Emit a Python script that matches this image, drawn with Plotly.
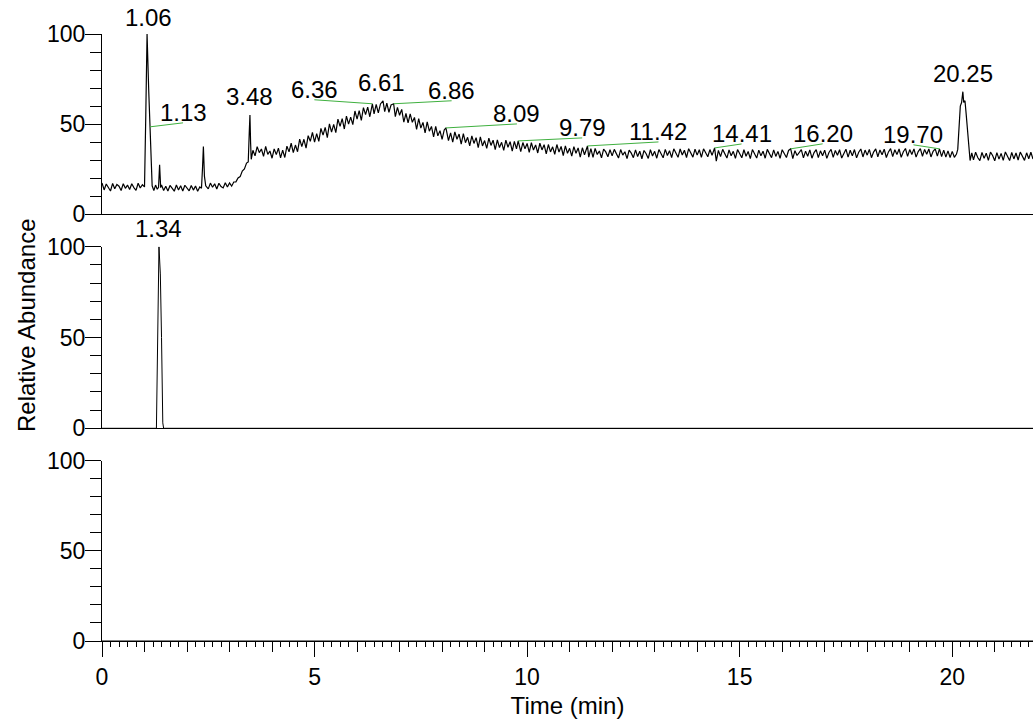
import plotly.graph_objects as go

# ---------------- data ----------------
# Top panel: total chromatogram (time in min, relative abundance %)
tic_time = [
    0.00, 0.05, 0.10, 0.15, 0.20, 0.25, 0.30, 0.35, 0.40, 0.45,
    0.50, 0.55, 0.60, 0.65, 0.70, 0.75, 0.80, 0.85, 0.90, 0.95,
    1.00, 1.03, 1.06, 1.10, 1.13, 1.15, 1.18,
    1.22, 1.26, 1.30, 1.33, 1.355, 1.38, 1.40, 1.45, 1.50, 1.55,
    1.60, 1.65, 1.70, 1.75, 1.80, 1.85, 1.90, 1.95, 2.00, 2.05,
    2.10, 2.15, 2.20, 2.25, 2.30, 2.34, 2.365, 2.385, 2.41, 2.44,
    2.50, 2.55, 2.60, 2.65, 2.70, 2.75, 2.80, 2.85, 2.90, 2.95,
    3.00, 3.05, 3.10, 3.15, 3.20, 3.25, 3.30, 3.35, 3.40, 3.44,
    3.465, 3.48, 3.495, 3.51,
    3.55, 3.60, 3.65, 3.70, 3.75, 3.80, 3.85, 3.90, 3.95, 4.00,
    4.05, 4.10, 4.15, 4.20, 4.25, 4.30, 4.35, 4.40, 4.45, 4.50,
    4.55, 4.60, 4.65, 4.70, 4.75, 4.80, 4.85, 4.90, 4.95, 5.00,
    5.05, 5.10, 5.15, 5.20, 5.25, 5.30, 5.35, 5.40, 5.45, 5.50,
    5.55, 5.60, 5.65, 5.70, 5.75, 5.80, 5.85, 5.90, 5.95, 6.00,
    6.05, 6.10, 6.15, 6.20, 6.25, 6.30, 6.36, 6.40, 6.45, 6.50,
    6.55, 6.61, 6.65, 6.70, 6.75, 6.80, 6.86, 6.90, 6.95, 7.00,
    7.05, 7.10, 7.15, 7.20, 7.25, 7.30, 7.35, 7.40, 7.45, 7.50,
    7.55, 7.60, 7.65, 7.70, 7.75, 7.80, 7.85, 7.90, 7.95, 8.00,
    8.05, 8.09, 8.15, 8.20, 8.25, 8.30, 8.35, 8.40, 8.45, 8.50,
    8.55, 8.60, 8.65, 8.70, 8.75, 8.80, 8.85, 8.90, 8.95, 9.00,
    9.05, 9.10, 9.15, 9.20, 9.25, 9.30, 9.35, 9.40, 9.45, 9.50,
    9.55, 9.60, 9.65, 9.70, 9.75, 9.79, 9.85, 9.90, 9.95, 10.00,
    10.05, 10.10, 10.15, 10.20, 10.25, 10.30, 10.35, 10.40, 10.45, 10.50,
    10.55, 10.60, 10.65, 10.70, 10.75, 10.80, 10.85, 10.90, 10.95, 11.00,
    11.05, 11.10, 11.15, 11.20, 11.25, 11.30, 11.35, 11.42, 11.45, 11.50,
    11.55, 11.60, 11.65, 11.70, 11.75, 11.80, 11.85, 11.90, 11.95, 12.00,
    12.05, 12.10, 12.15, 12.20, 12.25, 12.30, 12.35, 12.40, 12.45, 12.50,
    12.55, 12.60, 12.65, 12.70, 12.75, 12.80, 12.85, 12.90, 12.95, 13.00,
    13.05, 13.10, 13.15, 13.20, 13.25, 13.30, 13.35, 13.40, 13.45, 13.50,
    13.55, 13.60, 13.65, 13.70, 13.75, 13.80, 13.85, 13.90, 13.95, 14.00,
    14.05, 14.10, 14.15, 14.20, 14.25, 14.30, 14.35, 14.41, 14.45, 14.50,
    14.55, 14.60, 14.65, 14.70, 14.75, 14.80, 14.85, 14.90, 14.95, 15.00,
    15.05, 15.10, 15.15, 15.20, 15.25, 15.30, 15.35, 15.40, 15.45, 15.50,
    15.55, 15.60, 15.65, 15.70, 15.75, 15.80, 15.85, 15.90, 15.95, 16.00,
    16.05, 16.10, 16.15, 16.20, 16.25, 16.30, 16.35, 16.40, 16.45, 16.50,
    16.55, 16.60, 16.65, 16.70, 16.75, 16.80, 16.85, 16.90, 16.95, 17.00,
    17.05, 17.10, 17.15, 17.20, 17.25, 17.30, 17.35, 17.40, 17.45, 17.50,
    17.55, 17.60, 17.65, 17.70, 17.75, 17.80, 17.85, 17.90, 17.95, 18.00,
    18.05, 18.10, 18.15, 18.20, 18.25, 18.30, 18.35, 18.40, 18.45, 18.50,
    18.55, 18.60, 18.65, 18.70, 18.75, 18.80, 18.85, 18.90, 18.95, 19.00,
    19.05, 19.10, 19.15, 19.20, 19.25, 19.30, 19.35, 19.40, 19.45, 19.50,
    19.55, 19.60, 19.65, 19.70, 19.75, 19.80, 19.85, 19.90, 19.95, 20.00,
    20.05, 20.10, 20.13, 20.16, 20.19, 20.22, 20.25, 20.27, 20.30, 20.33,
    20.38, 20.42, 20.46, 20.50, 20.55, 20.60, 20.65, 20.70, 20.75, 20.80,
    20.85, 20.90, 20.95, 21.00, 21.05, 21.10, 21.15, 21.20, 21.25, 21.30,
    21.35, 21.40, 21.45, 21.50, 21.55, 21.60, 21.65, 21.70, 21.75, 21.80,
    21.85, 21.90,
]
tic_abund = [
    17.4, 13.5, 16.8, 14.9, 12.9, 17.1, 14.2, 16.5, 15.6, 13.2,
    17.0, 14.4, 16.2, 13.7, 16.9, 14.8, 13.3, 17.2, 14.6, 16.4,
    15.2, 55.0, 100.0, 68.0, 48.5, 40.0, 15.8,
    13.1, 16.2, 13.9, 15.0, 27.4, 14.8, 16.3, 13.2, 15.6, 12.9,
    16.0, 14.6, 12.8, 16.2, 13.5, 15.8, 12.9, 16.1, 14.2, 13.0,
    16.0, 13.4, 15.7, 12.8, 15.2, 14.4, 26.0, 37.6, 21.0, 15.8,
    14.1, 17.3, 15.0, 16.9, 14.0, 17.2, 15.4, 14.6, 17.5, 15.1,
    17.4, 15.6, 17.9, 18.0, 20.1, 20.9, 24.0, 25.2, 28.4, 29.0,
    46.0, 55.0, 40.0, 30.5,
    35.5, 32.4, 37.5, 34.2, 36.2, 32.1, 37.6, 33.2, 35.1, 31.1,
    36.3, 33.1, 36.7, 31.3, 35.6, 31.5, 37.8, 34.6, 39.4, 34.2,
    38.4, 34.7, 41.7, 37.5, 41.6, 36.7, 43.6, 40.5, 45.4, 40.0,
    44.7, 40.4, 47.6, 43.9, 48.2, 42.5, 50.1, 45.6, 49.9, 45.3,
    52.8, 48.8, 53.1, 47.3, 54.5, 50.0, 53.9, 49.7, 57.3, 52.8,
    57.5, 52.1, 59.2, 55.3, 59.4, 54.1, 61.3, 55.7, 60.9, 56.2,
    61.2, 62.9, 56.9, 61.6, 56.6, 60.7, 61.3, 54.2, 59.3, 54.9,
    58.2, 51.1, 55.9, 50.7, 55.7, 51.0, 53.7, 47.1, 53.1, 47.8,
    51.0, 45.1, 51.2, 46.1, 48.7, 42.9, 48.7, 43.5, 46.4, 41.6,
    46.8, 47.9, 40.9, 45.2, 40.0, 45.7, 41.6, 44.5, 38.9, 44.7,
    39.7, 42.7, 38.0, 43.5, 39.3, 42.5, 37.0, 42.9, 37.9, 40.9,
    36.6, 42.2, 38.2, 41.1, 35.9, 41.3, 37.0, 39.9, 35.5, 41.1,
    37.2, 40.3, 35.0, 40.4, 36.3, 40.7, 34.8, 39.8, 36.3, 39.3,
    34.3, 39.7, 35.6, 38.5, 34.0, 39.4, 35.7, 38.6, 33.5, 38.7,
    34.6, 37.4, 33.3, 38.7, 34.5, 37.6, 32.6, 37.9, 33.8, 36.6,
    32.3, 37.5, 33.8, 36.8, 31.7, 36.9, 33.0, 37.9, 31.7, 36.4,
    31.6, 36.5, 33.2, 35.1, 31.3, 36.2, 34.6, 31.9, 35.8, 32.4,
    36.0, 33.1, 31.2, 35.9, 32.8, 34.7, 30.9, 35.6, 33.9, 31.4,
    35.7, 32.0, 35.0, 30.8, 35.4, 33.6, 31.0, 35.8, 32.3, 34.9,
    31.1, 35.9, 33.2, 31.3, 36.0, 32.6, 35.3, 31.4, 36.3, 34.0,
    31.6, 36.2, 32.9, 35.5, 31.5, 36.4, 33.8, 31.7, 36.1, 32.8,
    35.8, 31.6, 36.3, 34.2, 31.9, 35.9, 32.7, 36.8, 29.5, 35.4,
    32.0, 36.0, 33.1, 31.2, 35.7, 32.5, 34.9, 31.0, 35.9, 33.6,
    31.3, 35.8, 32.2, 34.8, 30.9, 35.9, 33.3, 31.2, 35.6, 32.4,
    35.0, 31.1, 36.0, 33.5, 31.4, 35.7, 32.1, 34.9, 31.0, 35.8,
    33.2, 31.5, 35.4, 36.3, 30.9, 35.3, 32.6, 34.1, 35.9, 31.3,
    35.0, 32.2, 35.7, 31.1, 34.2, 35.9, 31.4, 35.2, 32.5, 35.6,
    31.0, 34.3, 36.0, 31.6, 35.4, 32.7, 35.8, 31.2, 34.0, 36.1,
    31.7, 35.5, 32.4, 35.9, 31.3, 34.4, 36.2, 31.8, 35.6, 32.8,
    36.0, 31.4, 34.5, 36.3, 31.9, 35.7, 33.0, 36.1, 31.5, 34.6,
    36.4, 32.0, 35.8, 33.1, 36.2, 31.6, 34.7, 36.5, 32.1, 35.9,
    33.2, 36.3, 31.7, 34.8, 36.4, 32.2, 36.0, 33.3, 36.2, 31.8,
    34.9, 36.3, 32.3, 36.3, 32.0, 35.6, 31.7, 35.2, 31.5, 34.9,
    31.6, 33.4, 36.0, 50.0, 60.0, 62.0, 68.0, 62.0, 63.0, 55.0,
    40.0, 29.8, 34.1, 30.2, 34.4, 31.5, 29.8, 34.3, 31.0, 33.9,
    29.9, 34.5, 32.6, 29.7, 34.2, 30.6, 33.8, 29.9, 34.6, 32.4,
    29.8, 34.3, 30.7, 34.0, 30.1, 34.5, 32.2, 29.9, 34.1, 30.8,
    34.4, 30.6,
]

# Middle panel: single-ion trace
mid_time = [0.0, 1.28, 1.34, 1.372, 1.40, 1.43, 1.45, 21.9]
mid_abund = [0.0, 0.0, 100.0, 85.0, 50.0, 3.0, 0.0, 0.0]

# Bottom panel: empty trace
bot_time = [0.0, 21.9]
bot_abund = [0.0, 0.0]

# Peak labels (panel 1 = top, 2 = middle)
peak_label = ["1.06", "1.13", "3.48", "6.36", "6.61", "6.86", "8.09", "9.79",
              "11.42", "14.41", "16.20", "19.70", "20.25", "1.34"]
peak_time = [1.06, 1.13, 3.48, 6.36, 6.61, 6.86, 8.09, 9.79,
             11.42, 14.41, 16.20, 19.70, 20.25, 1.34]
peak_abund = [100.0, 48.5, 55.0, 61.3, 62.9, 61.3, 47.9, 40.7,
              37.9, 36.8, 36.3, 36.3, 68.0, 100.0]
peak_panel = [1, 1, 1, 1, 1, 1, 1, 1, 1, 1, 1, 1, 1, 2]

# label placement (pixels from the peak apex): dx, dy, leader line flag
label_dx = [1, 33, 0, -58, -2, 58, 71, 64, 71, 27, 32, -26, 0, 0]
label_dy = [6, 4, 8, 4, 8, 3, 4, 3, 4, 4, 5, 4, 8, 8]
label_line = [False, True, False, True, False, True, True, True,
              True, True, True, True, False, False]

x_ticks_major = 5
x_ticks_mid = 1
x_ticks_minor = 0.2
XMAX = 21.9

FONT = "Liberation Sans, Arial, sans-serif"
BLACK = "#000000"
GREEN = "#3fb03f"

fig = go.Figure()
fig.add_trace(go.Scatter(x=tic_time, y=tic_abund, xaxis="x", yaxis="y",
                         mode="lines", line=dict(color=BLACK, width=1.2),
                         hoverinfo="skip"))
fig.add_trace(go.Scatter(x=mid_time, y=mid_abund, xaxis="x2", yaxis="y2",
                         mode="lines", line=dict(color=BLACK, width=1),
                         hoverinfo="skip"))
fig.add_trace(go.Scatter(x=bot_time, y=bot_abund, xaxis="x3", yaxis="y3",
                         mode="lines", line=dict(color=BLACK, width=1),
                         hoverinfo="skip"))
fig.add_trace(go.Scatter(x=bot_time, y=bot_abund, xaxis="x4", yaxis="y3",
                         mode="lines", line=dict(color="rgba(0,0,0,0)", width=0),
                         hoverinfo="skip", showlegend=False))

tickfont = dict(family=FONT, size=23, color=BLACK)

def yax(domain, anchor):
    return dict(domain=domain, anchor=anchor, range=[0, 100], showgrid=False,
                zeroline=False, showline=True, linecolor=BLACK, linewidth=1,
                ticks="outside", tick0=0, dtick=50, ticklen=16, tickwidth=1,
                tickcolor=BLACK, tickfont=tickfont, ticklabelstandoff=-5,
                automargin=False,
                minor=dict(dtick=10, tick0=0, ticks="outside", ticklen=11,
                           tickcolor=BLACK, tickwidth=1, showgrid=False),
                fixedrange=True)

def xax_plain(anchor):
    return dict(domain=[0, 1], anchor=anchor, range=[0, XMAX], showgrid=False,
                zeroline=False, showline=True, linecolor=BLACK, linewidth=1,
                ticks="", showticklabels=False, fixedrange=True,
                automargin=False)

xaxis3 = xax_plain("y3")
xaxis3.update(ticks="outside", tick0=0, dtick=x_ticks_mid, ticklen=10,
              tickcolor=BLACK, tickwidth=1,
              minor=dict(dtick=x_ticks_minor, tick0=0, ticks="outside",
                         ticklen=5, tickcolor=BLACK, tickwidth=1,
                         showgrid=False))
xaxis4 = dict(overlaying="x3", anchor="y3", range=[0, XMAX], showgrid=False,
              zeroline=False, showline=False, ticks="outside", tick0=0,
              dtick=x_ticks_major, ticklen=15, tickcolor=BLACK, tickwidth=1,
              showticklabels=True, tickfont=tickfont, side="bottom",
              automargin=False,
              title=dict(text="Time (min)", font=dict(family=FONT, size=24,
                                                      color=BLACK),
                         standoff=8),
              fixedrange=True)

fig.update_layout(
    width=1033, height=720,
    margin=dict(l=102, r=0, t=34, b=79),
    paper_bgcolor="white", plot_bgcolor="white",
    showlegend=False,
    font=dict(family=FONT, color=BLACK),
    xaxis=xax_plain("y"),
    xaxis2=xax_plain("y2"),
    xaxis3=xaxis3,
    xaxis4=xaxis4,
    yaxis=yax([0.7030, 1.0], "x"),
    yaxis2=yax([0.3504, 0.6496], "x2"),
    yaxis3=yax([0.0, 0.2970], "x3"),
)

annotations = []
shapes = []
for lab, t, v, p, dx, dy, ln in zip(peak_label, peak_time, peak_abund,
                                     peak_panel, label_dx, label_dy, label_line):
    xr = "x" if p == 1 else "x%d" % p
    yr = "y" if p == 1 else "y%d" % p
    if ln:
        shapes.append(dict(type="line", xref=xr, yref=yr,
                           xsizemode="pixel", ysizemode="pixel",
                           xanchor=t, yanchor=v, x0=0, x1=dx, y0=0, y1=dy,
                           line=dict(color=GREEN, width=1)))
    annotations.append(dict(text=lab, x=t, y=v, xref=xr, yref=yr,
                            showarrow=False, xanchor="center",
                            yanchor="bottom", xshift=dx, yshift=dy - 5,
                            font=dict(family=FONT, size=24, color=BLACK)))

annotations.append(dict(text="Relative Abundance", xref="paper", yref="paper",
                        x=(26 - 102) / 931, y=(641 - 325) / 607,
                        xanchor="center", yanchor="middle", textangle=-90,
                        showarrow=False,
                        font=dict(family=FONT, size=24, color=BLACK)))

fig.update_layout(annotations=annotations, shapes=shapes)

# remove the page's default body margin so the figure sits at the top-left
fig.write_html(
    "out.html",
    config={"displayModeBar": False, "staticPlot": True},
    post_script=("document.body.style.margin='0';"
                 "document.body.style.overflow='hidden';"
                 "document.documentElement.style.overflow='hidden';"),
)
